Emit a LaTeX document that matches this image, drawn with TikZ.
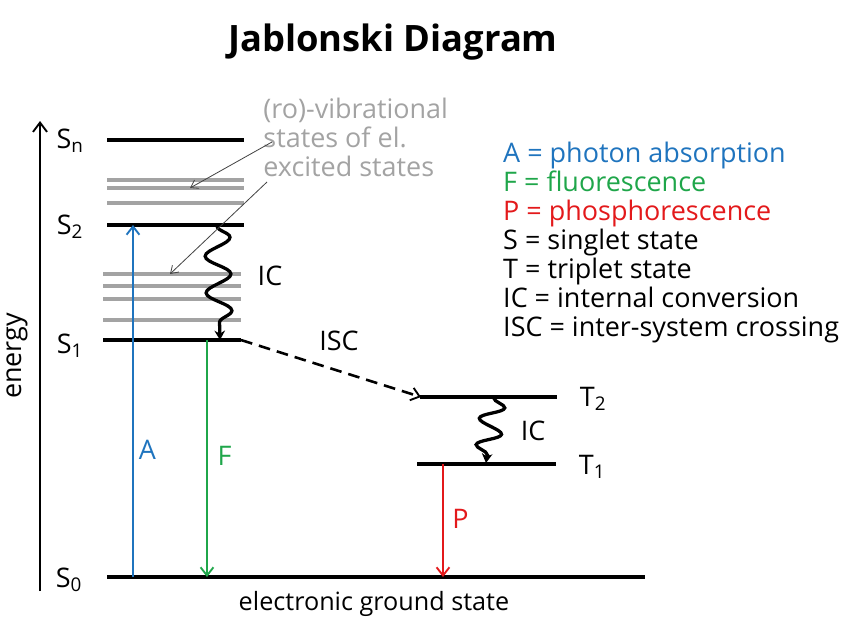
\documentclass[tikz,border=0pt]{standalone}
\usepackage{fontspec}
\setmainfont{Open Sans}
\usetikzlibrary{arrows.meta, decorations.pathmorphing, positioning}
\definecolor{AbsBlue}{HTML}{1F74BE}
\definecolor{FluoGreen}{HTML}{1FA64A}
\definecolor{PhosRed}{HTML}{E3191B}
\definecolor{VibGrey}{HTML}{A3A3A3}
\definecolor{PointerGrey}{HTML}{444444}
\tikzset{
  % Electronic level
  level/.style={line width=2.8pt, draw=black},
  % Vibrational sublevel
  vib/.style={line width=2.6pt, draw=VibGrey},
  % Radiative transition
  radiative/.style={
    -{Straight Barb[length=7pt, width=11pt, line width=1.6pt]},
    line width=2pt
  },
  % Non-radiative transition
  nonrad/.style 2 args={
    -{Stealth[length=8pt, width=9pt]}, line width=2.8pt,
    decorate, decoration={snake, amplitude=#1, segment length=#2,
      pre length=1pt, post length=6pt}
  },
  % Inter-system crossing
  crossing/.style={
    -{Straight Barb[length=7pt, width=11pt, line width=1.6pt]},
    line width=2.2pt, dash pattern=on 10pt off 6pt
  },
  % Pointer to sublevels
  pointer/.style={
    -{Straight Barb[length=6pt, width=8pt]}, line width=0.7pt,
    draw=PointerGrey
  },
  % Level names and labels
  statelabel/.style={font=\fontsize{23}{26}\selectfont, inner sep=1pt},
  legend/.style={font=\fontsize{23}{26}\selectfont, inner sep=0pt,
    anchor=base west}
}

\begin{document}
\begin{tikzpicture}[x={(0.03cm,0)}, y={(0,-0.03cm)}]
\useasboundingbox (0,0) rectangle (847,619);

% Title
\node[font=\fontsize{31}{34}\selectfont\bfseries] (title) at (393,42)
  {Jablonski Diagram};

% Energy axis
\coordinate (axis-bot) at (40,591);
\coordinate (axis-top) at (40,121);
\draw[-{Straight Barb[length=8pt, width=12pt, line width=1.6pt]},
  line width=2.2pt] (axis-bot) -- (axis-top);
\node[statelabel, rotate=90] (energy) at (17,356) {energy};

% Vibrational sublevels
\foreach \y in {180,188,203}
  \draw[vib] (107,\y) -- (244,\y);
\foreach \y in {274,286,299,320}
  \draw[vib] (103,\y) -- (241,\y);

% Electronic levels
\coordinate (Sn-w) at (107,140); \coordinate (Sn-e) at (244,140);
\coordinate (S2-w) at (107,225); \coordinate (S2-e) at (244,225);
\coordinate (S1-w) at (103,340); \coordinate (S1-e) at (241,340);
\coordinate (S0-w) at (107,577); \coordinate (S0-e) at (645,577);
\coordinate (T2-w) at (420,397); \coordinate (T2-e) at (557,397);
\coordinate (T1-w) at (417,464); \coordinate (T1-e) at (556,464);
\foreach \lv in {Sn,S2,S1,S0,T2,T1}
  \draw[level] (\lv-w) -- (\lv-e);

\node[statelabel] (Sn) at (70,141) {S\textsubscript{n}};
\node[statelabel] (S2) at (70,227) {S\textsubscript{2}};
\node[statelabel] (S1) at (70,346) {S\textsubscript{1}};
\node[statelabel] (S0) at (69,580) {S\textsubscript{0}};
\node[statelabel] (T2) at (593,399) {T\textsubscript{2}};
\node[statelabel] (T1) at (592,467) {T\textsubscript{1}};

% Radiative transitions
\coordinate (A-bot) at (133,577);  \coordinate (A-top) at (133,225);
\coordinate (F-top) at (207,340);  \coordinate (F-bot) at (207,577);
\coordinate (P-top) at (443,464);  \coordinate (P-bot) at (443,577);
\draw[radiative, AbsBlue] (A-bot) --
  node[pos=0.36, right=3pt, statelabel, text=AbsBlue] (A) {A} (A-top);
\draw[radiative, FluoGreen] (F-top) --
  node[pos=0.49, right=7pt, statelabel, text=FluoGreen] (F) {F} (F-bot);
\draw[radiative, PhosRed] (P-top) --
  node[pos=0.49, right=6pt, statelabel, text=PhosRed] (P) {P} (P-bot);

% Non-radiative transitions
\coordinate (ic1-top) at (217,225); \coordinate (ic1-bot) at (220,340);
\coordinate (ic2-top) at (494,397); \coordinate (ic2-bot) at (486,463);
\draw[nonrad={0.38cm}{1.1cm}] (ic1-top) -- (ic1-bot);
\draw[nonrad={0.36cm}{0.8cm}] (ic2-top) -- (ic2-bot);
\node[statelabel] (IC1) at (270,276) {IC};
\node[statelabel] (IC2) at (533,431) {IC};

% Inter-system crossing
\coordinate (isc-end) at (421,397);
\draw[crossing] (S1-e) -- (isc-end);
\node[statelabel] (ISC) at (339,341) {ISC};

% Sublevel annotation
\node[statelabel, text=VibGrey, align=left, anchor=north west,
  font=\fontsize{23}{24.6}\selectfont] (vibtext) at (262,97)
  {(ro)-vibrational\\states of el.\\excited states};
\coordinate (ptr1) at (272,142); \coordinate (ptr1-end) at (190,188);
\coordinate (ptr2) at (267,182); \coordinate (ptr2-end) at (170,274);
\draw[pointer] (ptr1) -- (ptr1-end);
\draw[pointer] (ptr2) -- (ptr2-end);

% Legend
\foreach \txt/\col [count=\i] in {
    A = photon absorption/AbsBlue,
    F = fluorescence/FluoGreen,
    P = phosphorescence/PhosRed,
    S = singlet state/black,
    T = triplet state/black,
    IC = internal conversion/black,
    ISC = inter-system crossing/black}
  \node[legend, text=\col] (leg\i) at (503,{133+29*\i}) {\txt};

% Ground state
\node[statelabel, font=\fontsize{21.5}{24}\selectfont] (ground)
  at (374,604) {electronic ground state};

\end{tikzpicture}
\end{document}
